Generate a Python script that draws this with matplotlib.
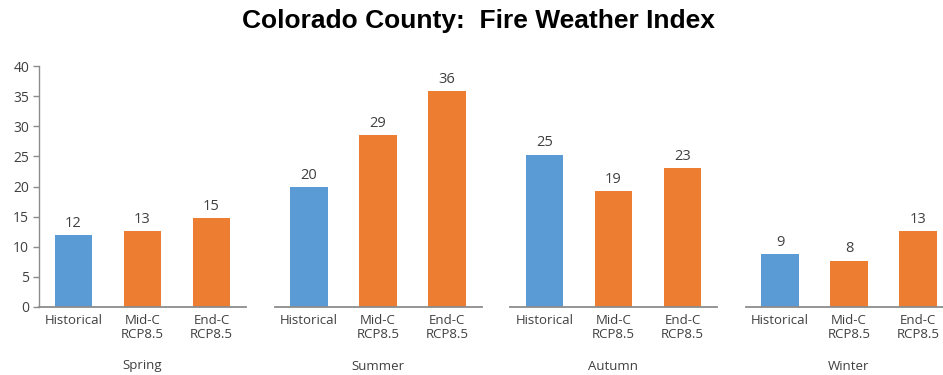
import numpy as np
from matplotlib import pyplot as plt

seasons = ['Spring', 'Summer', 'Autumn', 'Winter']
scenarios = ['Historical', 'Mid-C\nRCP8.5', 'End-C\nRCP8.5']
historical = [11.9, 19.95, 25.3, 8.85]
mid_c = [12.6, 28.6, 19.3, 7.7]
end_c = [14.8, 35.8, 23.05, 12.55]

blue = '#5B9BD5'
orange = '#ED7D31'
colors = [blue, orange, orange]

plt.rcParams['font.family'] = ['Open Sans', 'DejaVu Sans']

W, H = 943, 375
fig = plt.figure(figsize=(W / 100, H / 100), dpi=100)

bottom = (H - 307) / H
height = (307 - 66) / H
panel_w = 207 / W

for i, season in enumerate(seasons):
    left = (39 + i * 235.5) / W
    ax = fig.add_axes([left, bottom, panel_w, height])
    vals = [historical[i], mid_c[i], end_c[i]]
    x = np.arange(3)
    ax.bar(x, vals, width=0.55, color=colors, zorder=2)
    for xi, v in zip(x, vals):
        ax.annotate(f'{v:.0f}', (xi, v), xytext=(0, 3), textcoords='offset points',
                    ha='center', va='bottom', fontsize=10.5, color='#404040')
    ax.set_xlim(-0.5, 2.5)
    ax.set_ylim(0, 40)
    ax.set_xticks(x)
    ax.set_xticklabels(scenarios, fontsize=9.5, color='#404040', linespacing=1.15)
    ax.tick_params(axis='x', length=0, pad=5)
    ax.set_xlabel(season, fontsize=9.5, color='#404040', labelpad=13)
    for s in ['top', 'right']:
        ax.spines[s].set_visible(False)
    ax.spines['bottom'].set_color('#8c8c8c')
    ax.spines['bottom'].set_linewidth(1.3)
    if i == 0:
        ax.set_yticks(np.arange(0, 41, 5))
        ax.tick_params(axis='y', labelsize=10, labelcolor='#404040', color='#8c8c8c',
                       length=4, width=1, pad=3)
        ax.spines['left'].set_color('#8c8c8c')
        ax.spines['left'].set_linewidth(1)
    else:
        ax.spines['left'].set_visible(False)
        ax.set_yticks([])

fig.text(478 / W, 1 - 21 / H, 'Colorado County:  Fire Weather Index', ha='center', va='center',
         fontsize=19, fontweight='bold', family='Liberation Sans')

fig.savefig('out.png', dpi=100)
